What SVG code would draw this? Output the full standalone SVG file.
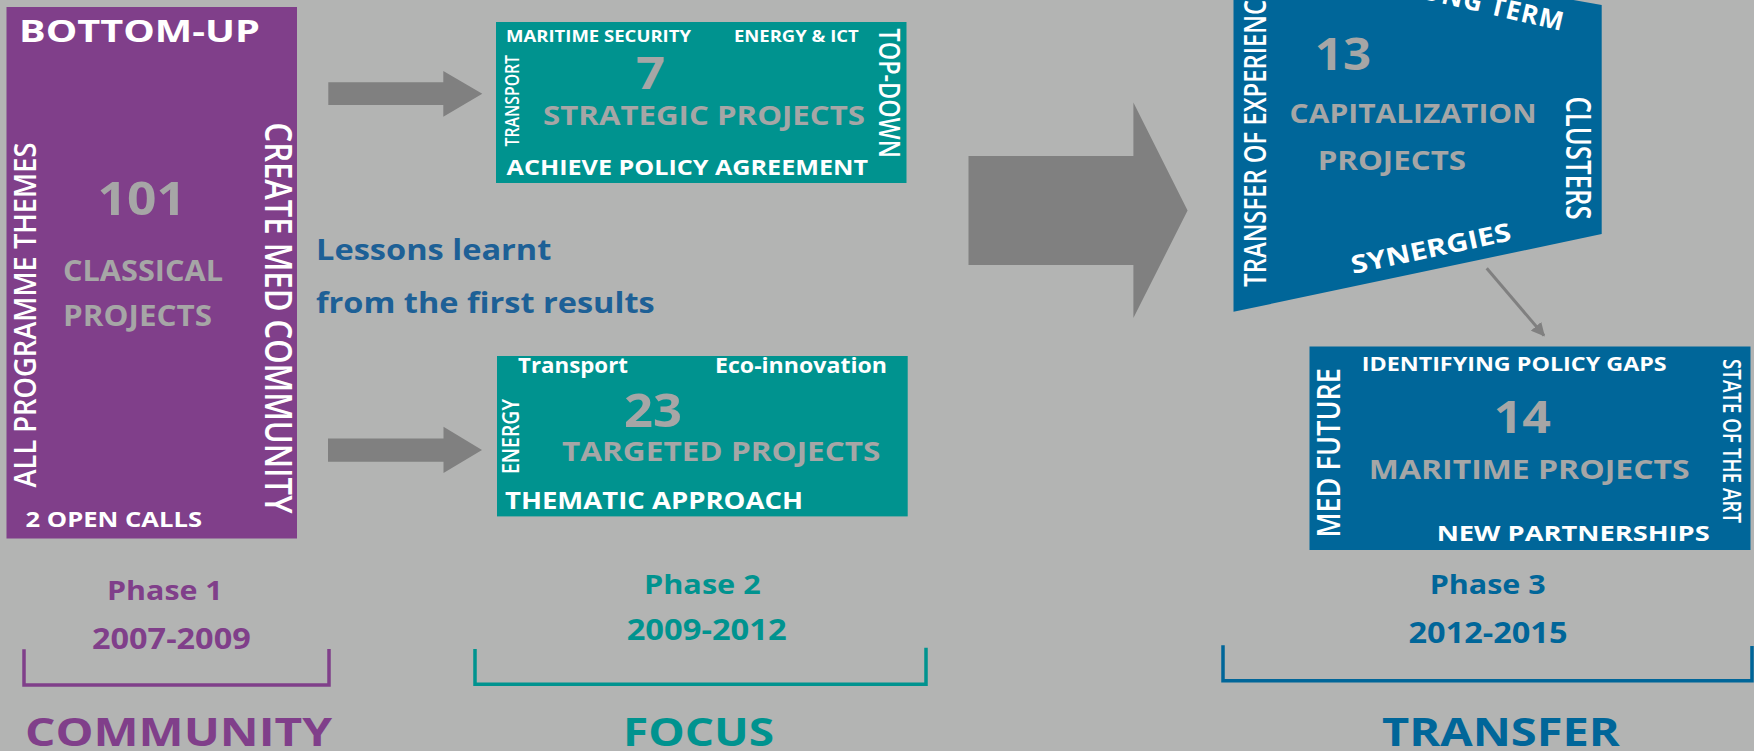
<svg xmlns="http://www.w3.org/2000/svg" width="1754" height="751" viewBox="0 0 1754 751">
<defs>
<style>
text{font-family:"Open Sans","Liberation Sans",sans-serif;font-weight:700}
.w{fill:#ffffff}
.g{fill:#a6a6a6}
.sb{font-weight:600}
.pu{fill:#803f8a}
.te{fill:#00938f}
.bl{fill:#006699}
.lb{fill:#1d6096}
.arrow{fill:#808080}
.br{fill:none;stroke-width:3.5}
</style>
<marker id="ah" viewBox="0 0 10 10" refX="9" refY="5" markerWidth="4.5" markerHeight="4.5" orient="auto" markerUnits="strokeWidth">
<path d="M0,0 L10,5 L0,10 z" fill="#808080"/>
</marker>
</defs>
<rect x="0" y="0" width="1754" height="751" fill="#b3b4b3"/>

<g id="connectors">
<polygon class="arrow" points="328.3,82.3 443.3,82.3 443.3,71 482.3,93.8 443.3,116.7 443.3,105 328.3,105"/>
<polygon class="arrow" points="328,438.6 443.5,438.6 443.5,426.8 482,450 443.5,473 443.5,461.8 328,461.8"/>
<polygon class="arrow" points="968.5,156 1133.4,156 1133.4,102.5 1187.6,210.5 1133.4,318 1133.4,265 968.5,265"/>
<line x1="1486.7" y1="268.3" x2="1544" y2="335.5" stroke="#808080" stroke-width="3" marker-end="url(#ah)"/>
</g>

<g id="phase1-classical">
<rect x="6.5" y="7" width="290.5" height="531.5" fill="#803f8a"/>
<text class="w" x="19" y="42" font-size="31" textLength="241" lengthAdjust="spacingAndGlyphs">BOTTOM-UP</text>
<text class="w sb" transform="translate(36.4,487.5) rotate(-90)" font-size="31" textLength="345" lengthAdjust="spacingAndGlyphs">ALL PROGRAMME THEMES</text>
<text class="w sb" transform="translate(265,122.5) rotate(90)" font-size="38" textLength="391" lengthAdjust="spacingAndGlyphs">CREATE MED COMMUNITY</text>
<text class="g" x="97.6" y="215" font-size="46" textLength="88.4" lengthAdjust="spacingAndGlyphs">101</text>
<text class="g" x="63" y="281" font-size="28" textLength="160" lengthAdjust="spacingAndGlyphs">CLASSICAL</text>
<text class="g" x="63" y="326" font-size="28" textLength="149" lengthAdjust="spacingAndGlyphs">PROJECTS</text>
<text class="w" x="25.6" y="527" font-size="21" textLength="176.4" lengthAdjust="spacingAndGlyphs">2 OPEN CALLS</text>
</g>

<g id="lessons-label">
<text class="lb" x="316" y="259.6" font-size="28" textLength="235.4" lengthAdjust="spacingAndGlyphs">Lessons learnt</text>
<text class="lb" x="316" y="313" font-size="28" textLength="338.7" lengthAdjust="spacingAndGlyphs">from the first results</text>
</g>

<g id="phase2-strategic">
<rect x="496" y="22" width="410.5" height="161" fill="#00938f"/>
<text class="w" x="506" y="42" font-size="16.5" textLength="185" lengthAdjust="spacingAndGlyphs">MARITIME SECURITY</text>
<text class="w" x="734" y="42" font-size="16.5" textLength="124.7" lengthAdjust="spacingAndGlyphs">ENERGY &amp; ICT</text>
<text class="w sb" transform="translate(519,146.4) rotate(-90)" font-size="20" textLength="91.4" lengthAdjust="spacingAndGlyphs">TRANSPORT</text>
<text class="g" x="636" y="89" font-size="45" textLength="29" lengthAdjust="spacingAndGlyphs">7</text>
<text class="g" x="543" y="125" font-size="26" textLength="322" lengthAdjust="spacingAndGlyphs">STRATEGIC PROJECTS</text>
<text class="w" x="506.6" y="175" font-size="21.5" textLength="361.4" lengthAdjust="spacingAndGlyphs">ACHIEVE POLICY AGREEMENT</text>
<text class="w sb" transform="translate(878.6,28.6) rotate(90)" font-size="29" textLength="129.4" lengthAdjust="spacingAndGlyphs">TOP-DOWN</text>
</g>

<g id="phase2-targeted">
<rect x="497" y="356" width="410.7" height="160.4" fill="#00938f"/>
<text class="w" x="518" y="373" font-size="21" textLength="110" lengthAdjust="spacingAndGlyphs">Transport</text>
<text class="w" x="715" y="373" font-size="21" textLength="172" lengthAdjust="spacingAndGlyphs">Eco-innovation</text>
<text class="w sb" transform="translate(519,474) rotate(-90)" font-size="23" textLength="75" lengthAdjust="spacingAndGlyphs">ENERGY</text>
<text class="g" x="624" y="426.8" font-size="46" textLength="58" lengthAdjust="spacingAndGlyphs">23</text>
<text class="g" x="562" y="460.7" font-size="27" textLength="318.5" lengthAdjust="spacingAndGlyphs">TARGETED PROJECTS</text>
<text class="w" x="505" y="509" font-size="24" textLength="298" lengthAdjust="spacingAndGlyphs">THEMATIC APPROACH</text>
</g>

<g id="phase3-capitalization">
<polygon points="1233.5,-60 1601.7,5 1601.7,234 1233.5,311.8" fill="#006699"/>
<text class="w" transform="translate(1562,31) rotate(13)" font-size="26" text-anchor="end" letter-spacing="1">LONG TERM</text>
<text class="w sb" transform="translate(1266,286.7) rotate(-90)" font-size="31" textLength="300" lengthAdjust="spacingAndGlyphs">TRANSFER OF EXPERIENCE</text>
<text class="g" x="1314.8" y="70.4" font-size="44" textLength="56.2" lengthAdjust="spacingAndGlyphs">13</text>
<text class="g" x="1289.6" y="122.5" font-size="27" textLength="247" lengthAdjust="spacingAndGlyphs">CAPITALIZATION</text>
<text class="g" x="1317.7" y="169.6" font-size="27" textLength="148.3" lengthAdjust="spacingAndGlyphs">PROJECTS</text>
<text class="w sb" transform="translate(1565.8,96.4) rotate(90)" font-size="34" textLength="123.2" lengthAdjust="spacingAndGlyphs">CLUSTERS</text>
<text class="w" transform="translate(1353,274) rotate(-12)" font-size="25" textLength="163" lengthAdjust="spacingAndGlyphs">SYNERGIES</text>
</g>

<g id="phase3-maritime">
<rect x="1309.5" y="346.5" width="441" height="203.5" fill="#006699"/>
<text class="w" x="1361.7" y="371.4" font-size="20" textLength="305" lengthAdjust="spacingAndGlyphs">IDENTIFYING POLICY GAPS</text>
<text class="w sb" transform="translate(1340.4,537.5) rotate(-90)" font-size="33" textLength="169.5" lengthAdjust="spacingAndGlyphs">MED FUTURE</text>
<text class="g" x="1493.7" y="433" font-size="44" textLength="57.3" lengthAdjust="spacingAndGlyphs">14</text>
<text class="g" x="1368.8" y="478.6" font-size="26" textLength="320.8" lengthAdjust="spacingAndGlyphs">MARITIME PROJECTS</text>
<text class="w" x="1436.7" y="541" font-size="22" textLength="273" lengthAdjust="spacingAndGlyphs">NEW PARTNERSHIPS</text>
<text class="w sb" transform="translate(1723,359) rotate(90)" font-size="25" textLength="164" lengthAdjust="spacingAndGlyphs">STATE OF THE ART</text>
</g>

<g id="phase1-label">
<text class="pu" x="107" y="600" font-size="27" textLength="115.7" lengthAdjust="spacingAndGlyphs">Phase 1</text>
<text class="pu" x="92" y="649" font-size="28" textLength="158.7" lengthAdjust="spacingAndGlyphs">2007-2009</text>
<path class="br" stroke="#803f8a" d="M24,649.3 V685 H329 V649"/>
<text class="pu" x="25" y="745.5" font-size="40" textLength="307" lengthAdjust="spacingAndGlyphs">COMMUNITY</text>
</g>

<g id="phase2-label">
<text class="te" x="644" y="594.3" font-size="27" textLength="116.7" lengthAdjust="spacingAndGlyphs">Phase 2</text>
<text class="te" x="626.7" y="640" font-size="28" textLength="160" lengthAdjust="spacingAndGlyphs">2009-2012</text>
<path class="br" stroke="#00938f" d="M475,649 V684.3 H926 V647.7"/>
<text class="te" x="623" y="745.5" font-size="40" textLength="151" lengthAdjust="spacingAndGlyphs">FOCUS</text>
</g>

<g id="phase3-label">
<text class="bl" x="1429.7" y="594" font-size="27" textLength="116" lengthAdjust="spacingAndGlyphs">Phase 3</text>
<text class="bl" x="1408.5" y="642.7" font-size="28" textLength="159" lengthAdjust="spacingAndGlyphs">2012-2015</text>
<path class="br" stroke="#006699" d="M1223,645.3 V680.7 H1752 V646"/>
<text class="bl" x="1382" y="746" font-size="40" textLength="237.8" lengthAdjust="spacingAndGlyphs">TRANSFER</text>
</g>
</svg>
